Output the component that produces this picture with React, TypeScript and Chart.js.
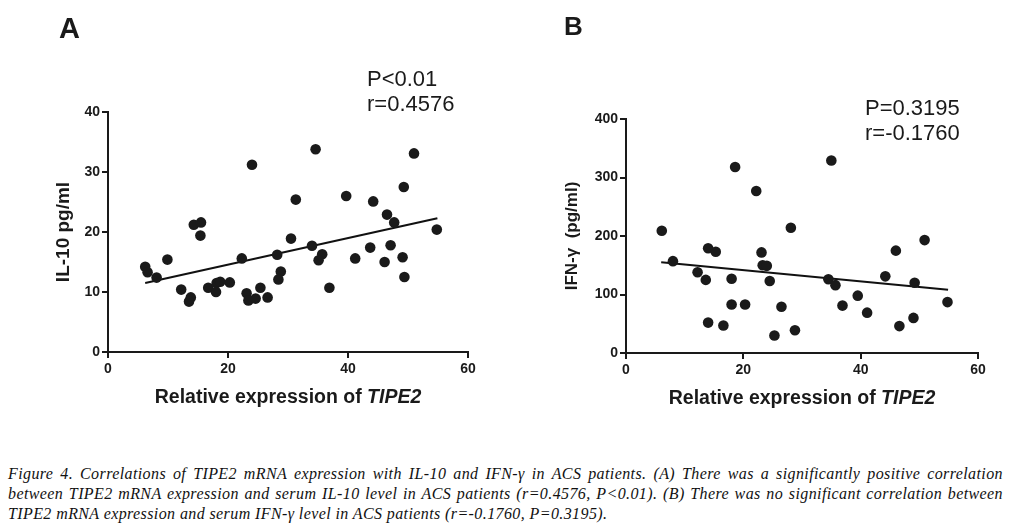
import React, { useEffect, useRef } from "react";
import { Chart, registerables } from "chart.js";

Chart.register(...registerables);

// ---------- Data ----------
const il10X = [6.2, 6.6, 8.1, 9.9, 12.2, 13.8, 13.5, 14.3, 15.5, 15.4, 16.7, 18.1, 18.7, 18.0, 20.3, 22.3, 23.1, 23.4, 24.6, 24.0, 25.4, 26.6, 28.2, 28.8, 28.4, 30.5, 31.3, 34.6, 34.0, 35.7, 35.1, 36.9, 39.7, 41.2, 43.7, 44.2, 46.1, 46.5, 47.1, 47.7, 49.1, 49.4, 49.3, 51.0, 54.8];
const il10Y = [14.2, 13.3, 12.4, 15.4, 10.4, 9.1, 8.4, 21.2, 21.6, 19.4, 10.7, 11.5, 11.7, 10.0, 11.6, 15.6, 9.8, 8.6, 8.9, 31.2, 10.7, 9.1, 16.2, 13.4, 12.1, 18.9, 25.4, 33.8, 17.7, 16.3, 15.3, 10.7, 26.0, 15.6, 17.4, 25.1, 15.0, 22.9, 17.8, 21.6, 15.8, 12.5, 27.5, 33.1, 20.4];
const il10FitX = [6.2, 54.9];
const il10FitY = [11.5, 22.3];

const ifnX = [6.1, 8.0, 12.2, 13.6, 14.0, 15.3, 14.0, 16.6, 18.0, 18.0, 18.6, 20.3, 22.2, 23.1, 23.3, 24.0, 24.5, 25.3, 26.5, 28.1, 28.8, 34.5, 35.0, 35.7, 36.9, 39.5, 41.1, 44.2, 46.0, 46.6, 49.0, 49.2, 50.9, 54.8];
const ifnY = [209, 157, 138, 125, 179, 173, 52, 47, 127, 83, 318, 83, 277, 172, 150, 149, 123, 30, 79, 214, 39, 126, 329, 116, 81, 98, 69, 131, 175, 46, 60, 120, 193, 87];
const ifnFitX = [6.0, 54.9];
const ifnFitY = [155, 108];

const xTicks = [0, 20, 40, 60];
const il10Ticks = [0, 10, 20, 30, 40];
const ifnTicks = [0, 100, 200, 300, 400];

const captionLines = [
  "Figure 4. Correlations of TIPE2 mRNA expression with IL-10 and IFN-γ in ACS patients. (A) There was a significantly positive correlation",
  "between TIPE2 mRNA expression and serum IL-10 level in ACS patients (r=0.4576, P<0.01). (B) There was no significant correlation between",
  "TIPE2 mRNA expression and serum IFN-γ level in ACS patients (r=-0.1760, P=0.3195).",
];

const SANS = "'Liberation Sans', Arial, sans-serif";
const INK = "#1a1a1a";

type PanelCfg = {
  letter: string;
  letterPos: [number, number];
  letterSize: number;
  stats: string[];
  statsPos: [number, number];
  yTitle: string;
  yTitleSize: number;
  yTitlePad: number;
  xs: number[];
  ys: number[];
  fitX: number[];
  fitY: number[];
  yTicks: number[];
  yWidth: number;
  xHeight: number;
  padTop: number;
  padRight: number;
  titleBaseline: number;
};

const textPlugin = {
  id: "panelText",
  afterDraw(chart: any) {
    const cfg: PanelCfg = chart.options.plugins.panelText.cfg;
    const ctx = chart.ctx;
    const area = chart.chartArea;
    ctx.save();
    ctx.fillStyle = INK;
    ctx.textBaseline = "alphabetic";
    // panel letter
    ctx.font = `bold ${cfg.letterSize}px ${SANS}`;
    ctx.textAlign = "left";
    ctx.fillText(cfg.letter, cfg.letterPos[0], cfg.letterPos[1]);
    // statistics
    ctx.font = `22px ${SANS}`;
    cfg.stats.forEach((s, i) => ctx.fillText(s, cfg.statsPos[0], cfg.statsPos[1] + i * 25));
    // x title with italic gene name
    const a = "Relative expression of ";
    const b = "TIPE2";
    ctx.font = `bold 19.5px ${SANS}`;
    const wa = ctx.measureText(a).width;
    ctx.font = `italic bold 19.5px ${SANS}`;
    const wb = ctx.measureText(b).width;
    const cx = (area.left + area.right) / 2;
    const x0 = cx - (wa + wb) / 2;
    ctx.font = `bold 19.5px ${SANS}`;
    ctx.fillText(a, x0, cfg.titleBaseline);
    ctx.font = `italic bold 19.5px ${SANS}`;
    ctx.fillText(b, x0 + wa, cfg.titleBaseline);
    ctx.restore();
  },
};

function Panel({ cfg, left, width, height }: { cfg: PanelCfg; left: number; width: number; height: number }) {
  const ref = useRef<HTMLCanvasElement | null>(null);
  useEffect(() => {
    if (!ref.current) return;
    const yMax = cfg.yTicks[cfg.yTicks.length - 1];
    const chart = new Chart(ref.current, {
      type: "scatter",
      data: {
        datasets: [
          {
            data: cfg.xs.map((x, i) => ({ x, y: cfg.ys[i] })),
            pointRadius: 5.3,
            pointHoverRadius: 5.3,
            pointBackgroundColor: INK,
            pointBorderColor: INK,
            pointBorderWidth: 0,
            showLine: false,
          },
          {
            data: cfg.fitX.map((x, i) => ({ x, y: cfg.fitY[i] })),
            showLine: true,
            borderColor: "#111",
            borderWidth: 2,
            pointRadius: 0,
            fill: false,
          },
        ],
      },
      options: {
        animation: false,
        responsive: false,
        maintainAspectRatio: false,
        clip: false as any,
        layout: { padding: { top: cfg.padTop, right: cfg.padRight, left: 0, bottom: 0 } },
        plugins: {
          legend: { display: false },
          tooltip: { enabled: false },
          panelText: { cfg } as any,
        } as any,
        scales: {
          x: {
            type: "linear",
            min: 0,
            max: 60,
            afterBuildTicks: (s: any) => {
              s.ticks = xTicks.map((v) => ({ value: v }));
            },
            afterFit: (s: any) => {
              s.height = cfg.xHeight;
            },
            grid: { drawOnChartArea: false, drawTicks: true, tickLength: 6, lineWidth: 2, color: INK },
            border: { display: true, color: INK, width: 2 },
            ticks: { color: INK, font: { family: SANS, size: 14, weight: "bold" }, padding: 3, maxRotation: 0 },
          },
          y: {
            type: "linear",
            min: 0,
            max: yMax,
            afterBuildTicks: (s: any) => {
              s.ticks = cfg.yTicks.map((v) => ({ value: v }));
            },
            afterFit: (s: any) => {
              s.width = cfg.yWidth;
            },
            grid: { drawOnChartArea: false, drawTicks: true, tickLength: 6, lineWidth: 2, color: INK },
            border: { display: true, color: INK, width: 2 },
            ticks: { color: INK, font: { family: SANS, size: 14, weight: "bold" }, padding: 2 },
            title: {
              display: true,
              text: cfg.yTitle,
              color: INK,
              font: { family: SANS, size: cfg.yTitleSize, weight: "bold" },
              padding: { top: cfg.yTitlePad, bottom: 0 },
            },
          },
        },
      } as any,
      plugins: [textPlugin],
    });
    return () => chart.destroy();
  }, [cfg]);
  return (
    <canvas
      ref={ref}
      width={width}
      height={height}
      style={{ position: "absolute", left, top: 0, width, height }}
    />
  );
}

const panelA: PanelCfg = {
  letter: "A",
  letterPos: [59, 38],
  letterSize: 29,
  stats: ["P<0.01", "r=0.4576"],
  statsPos: [367, 86],
  yTitle: "IL-10 pg/ml",
  yTitleSize: 19,
  yTitlePad: 52,
  xs: il10X,
  ys: il10Y,
  fitX: il10FitX,
  fitY: il10FitY,
  yTicks: il10Ticks,
  yWidth: 108,
  xHeight: 88,
  padTop: 112,
  padRight: 37,
  titleBaseline: 403,
};

const panelB: PanelCfg = {
  letter: "B",
  letterPos: [564 - 505, 35],
  letterSize: 26,
  stats: ["P=0.3195", "r=-0.1760"],
  statsPos: [865 - 505, 115],
  yTitle: "IFN-γ  (pg/ml)",
  yTitleSize: 17,
  yTitlePad: 57,
  xs: ifnX,
  ys: ifnY,
  fitX: ifnFitX,
  fitY: ifnFitY,
  yTicks: ifnTicks,
  yWidth: 121,
  xHeight: 87,
  padTop: 119,
  padRight: 41,
  titleBaseline: 404,
};

export default function App() {
  return (
    <div
      style={{
        position: "fixed",
        left: 0,
        top: 0,
        width: 1019,
        height: 532,
        background: "#fff",
        overflow: "hidden",
      }}
    >
      <Panel cfg={panelA} left={0} width={505} height={440} />
      <Panel cfg={panelB} left={505} width={514} height={440} />
      <div
        style={{
          position: "absolute",
          left: 8,
          top: 464,
          width: 995,
          fontFamily: "'Liberation Serif', 'Times New Roman', serif",
          fontStyle: "italic",
          fontSize: 16,
          lineHeight: "20px",
          letterSpacing: "0.4px",
          color: "#111",
        }}
      >
        {captionLines.map((line, i) => (
          <div
            key={i}
            style={{
              textAlign: "justify",
              textAlignLast: i < captionLines.length - 1 ? "justify" : "left",
            } as any}
          >
            {line}
          </div>
        ))}
      </div>
    </div>
  );
}
